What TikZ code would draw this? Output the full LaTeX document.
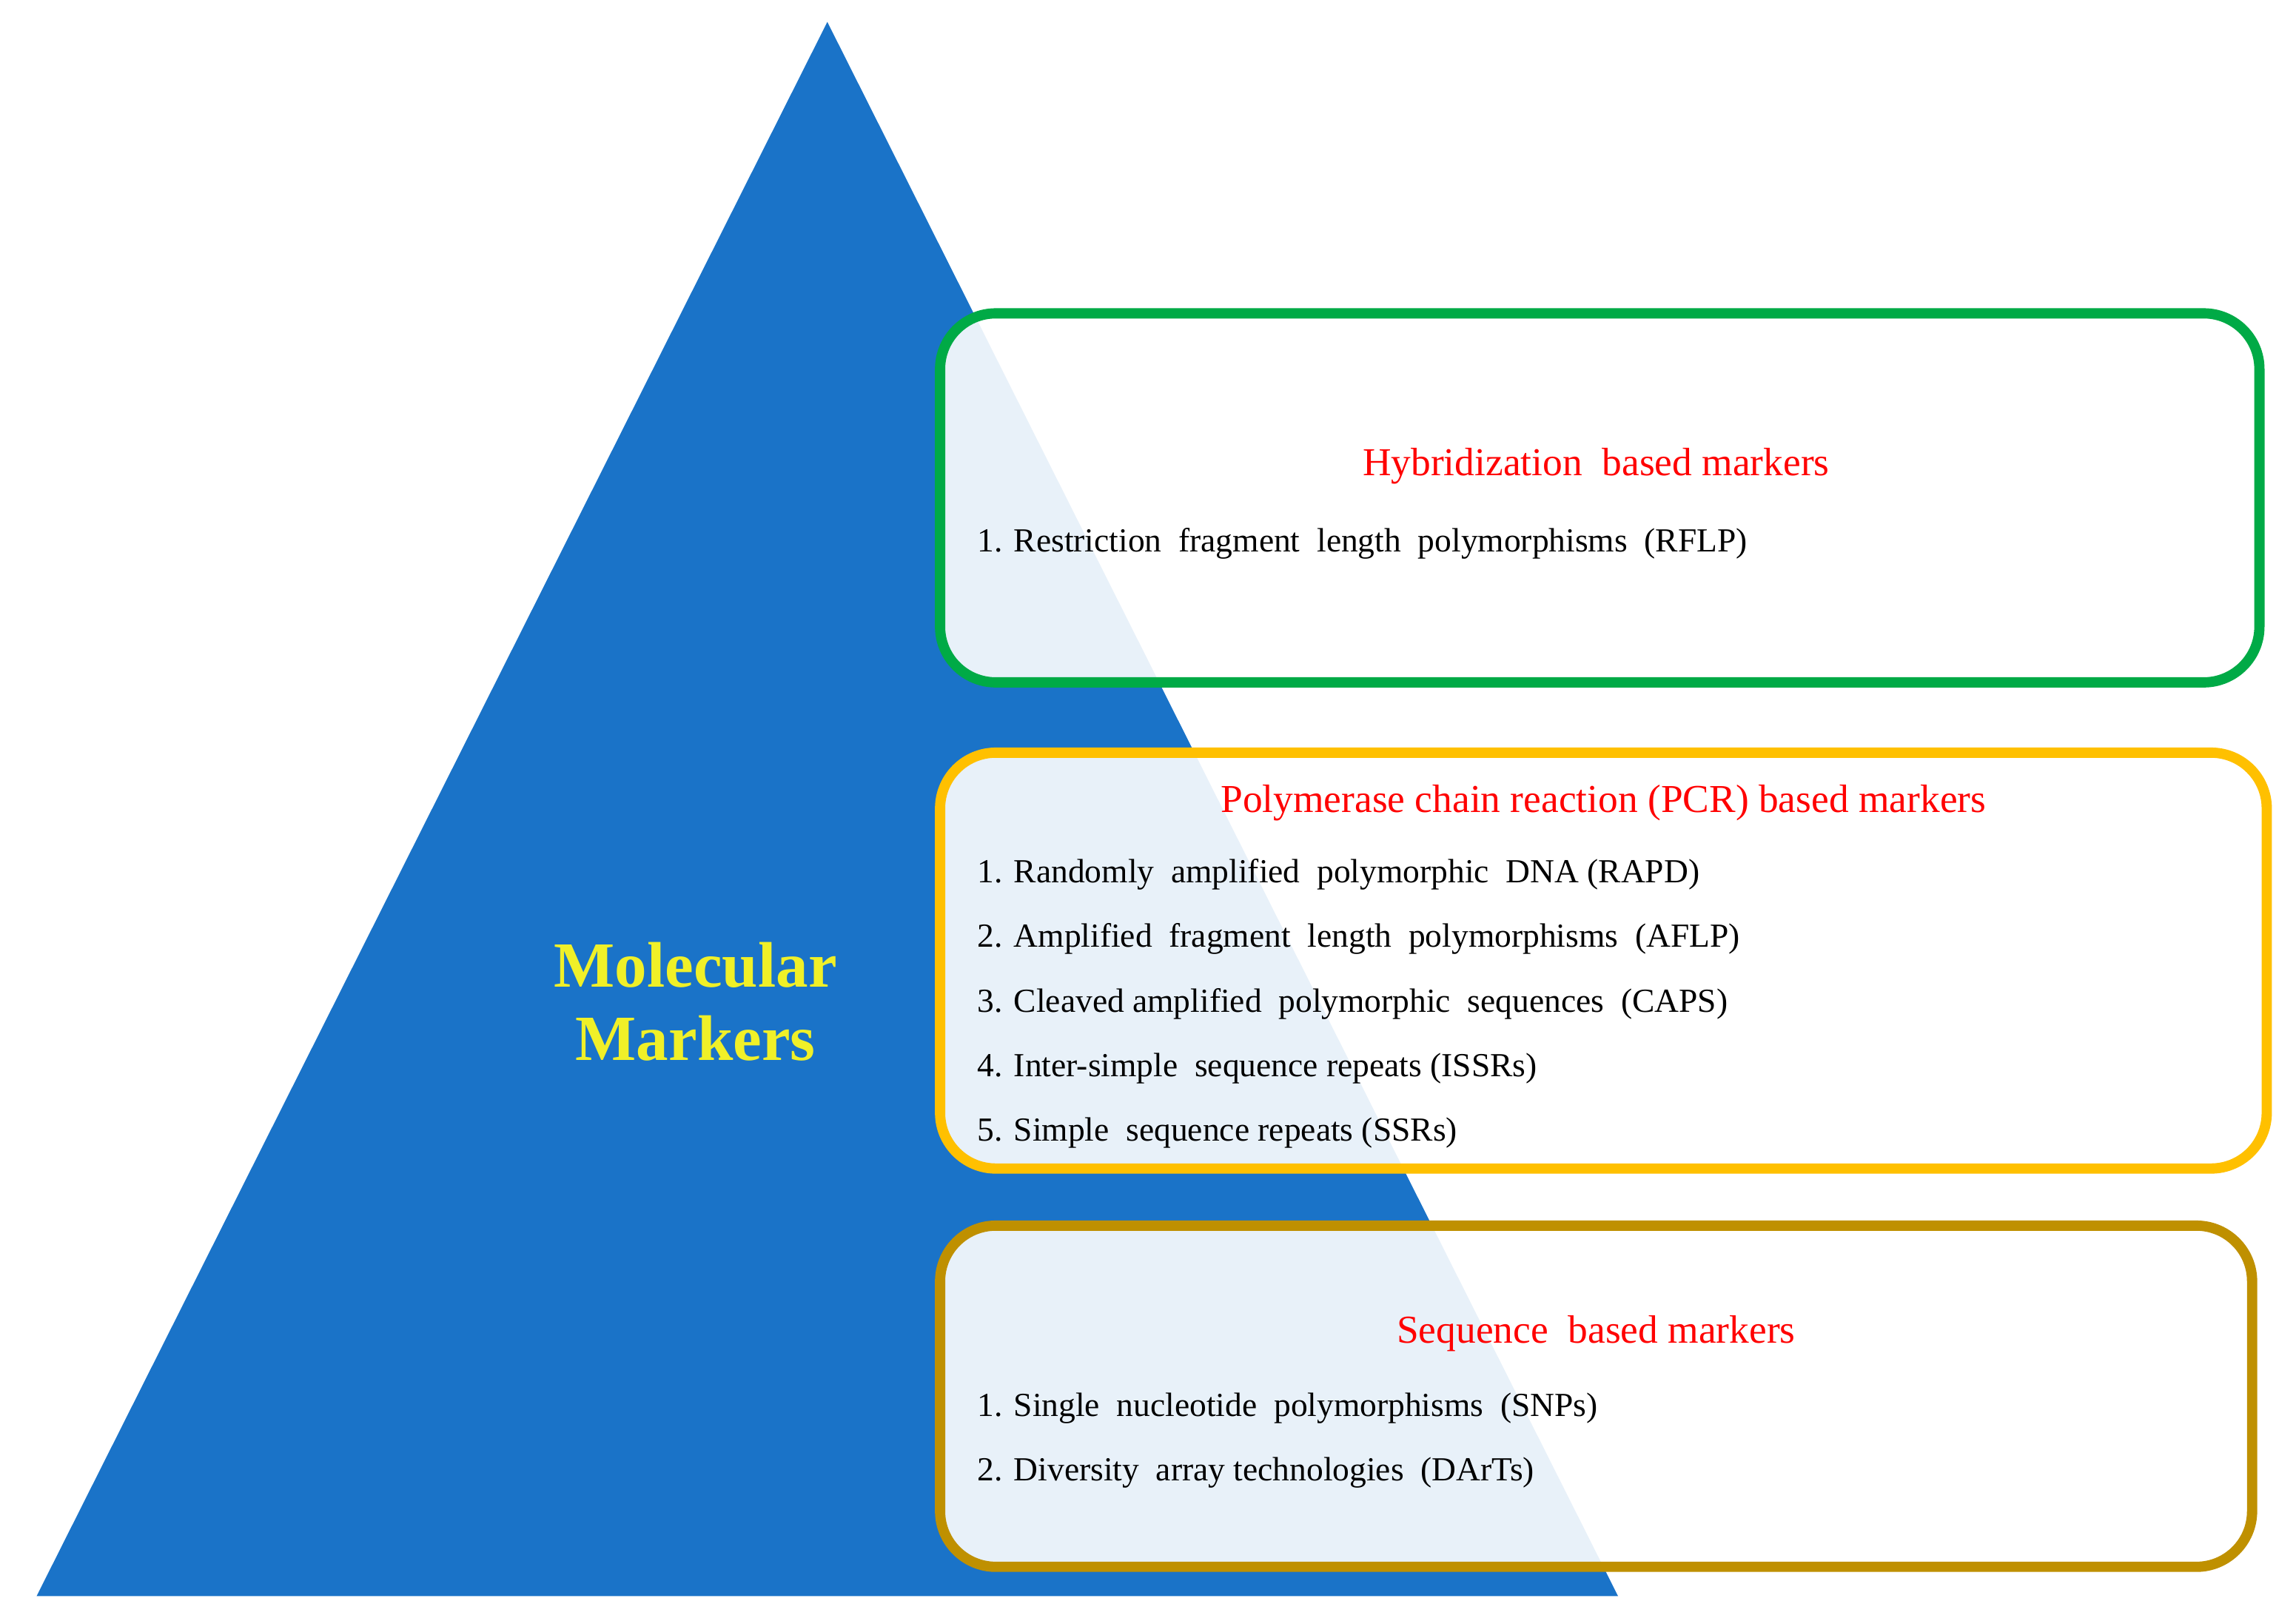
\documentclass[tikz,border=0pt]{standalone}
\usepackage{fontspec}
\setmainfont{Liberation Serif}
\begin{document}
\begin{tikzpicture}[x=1pt,y=-1pt,
 box/.style={line width=7pt,rounded corners=38pt,fill=white,fill opacity=0.9},
 ttl/.style={text=red,font=\fontsize{27}{30}\selectfont,anchor=base},
 itm/.style={font=\fontsize{23}{26}\selectfont,anchor=base west}]
\useasboundingbox (0,0) rectangle (1568,1107);
\fill[fill=white] (0,0) rectangle (1568,1107);
\fill[fill={rgb,255:red,26;green,115;blue,200}] (565,15) -- (1105,1090) -- (25,1090) -- cycle;
\node[font=\bfseries\fontsize{44}{50}\selectfont,text={rgb,255:red,240;green,240;blue,40},align=center] (mm) at (475,684) {Molecular\\Markers};
\draw[box,draw={rgb,255:red,0;green,170;blue,70}] (642,214) rectangle (1543,466);
\draw[box,draw={rgb,255:red,255;green,192;blue,0}] (642,514) rectangle (1548,798);
\draw[box,draw={rgb,255:red,191;green,144;blue,0}] (642,837) rectangle (1538,1070);
\node[ttl] (t1) at (1090,325) {Hybridization\ \ based markers};
\node[itm] (a1) at (664,377) {1. Restriction\ \ fragment\ \ length\ \ polymorphisms\ \ (RFLP)};
\node[ttl] (t2) at (1095,555) {Polymerase chain reaction (PCR) based markers};
\node[itm] (b1) at (664,603) {1. Randomly\ \ amplified\ \ polymorphic\ \ DNA (RAPD)};
\node[itm] (b2) at (664,647) {2. Amplified\ \ fragment\ \ length\ \ polymorphisms\ \ (AFLP)};
\node[itm] (b3) at (664,691) {3. Cleaved\ amplified\ \ polymorphic\ \ sequences\ \ (CAPS)};
\node[itm] (b4) at (664,735) {4. Inter-simple\ \ sequence repeats (ISSRs)};
\node[itm] (b5) at (664,779) {5. Simple\ \ sequence repeats (SSRs)};
\node[ttl] (t3) at (1090,917) {Sequence\ \ based markers};
\node[itm] (c1) at (664,967) {1. Single\ \ nucleotide\ \ polymorphisms\ \ (SNPs)};
\node[itm] (c2) at (664,1011) {2. Diversity\ \ array technologies\ \ (DArTs)};
\end{tikzpicture}
\end{document}
